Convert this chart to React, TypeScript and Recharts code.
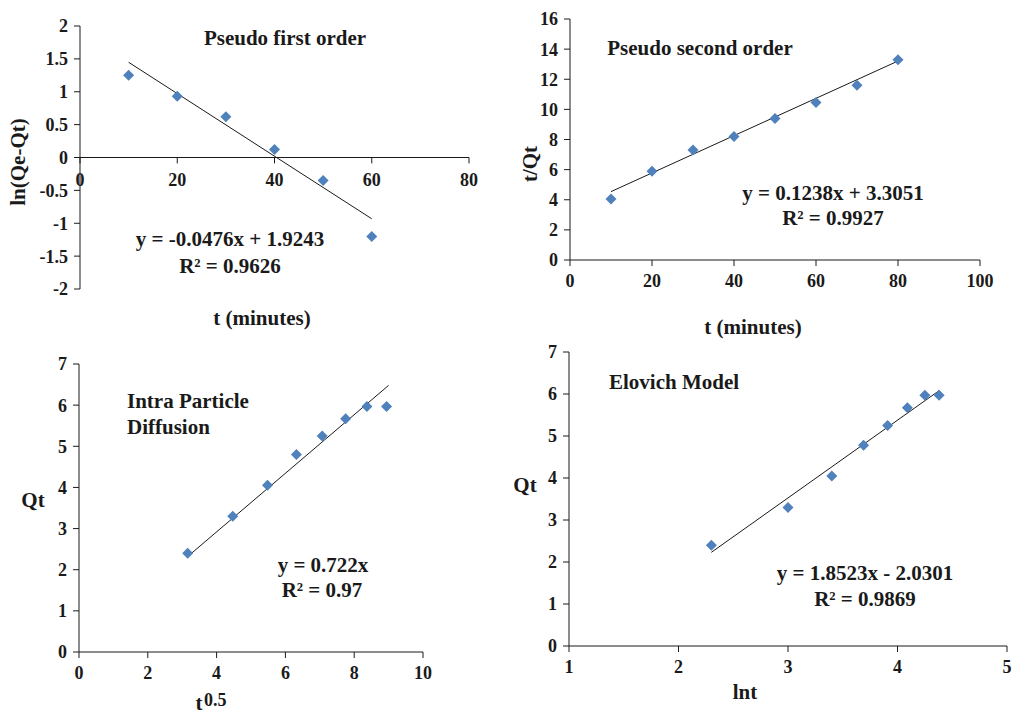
import React from 'react';
import { ComposedChart, Scatter, XAxis, YAxis, ReferenceLine, ReferenceDot } from 'recharts';

const FONT = '"Liberation Serif", "Times New Roman", serif';
const POINT = '#4F81BD';
const INK = '#1a1a1a';

// Panel 1: Pseudo first order
const p1X = [10, 20, 30, 40, 50, 60];
const p1Y = [1.25, 0.93, 0.62, 0.12, -0.35, -1.2];
const p1TrendX = [10, 60];
const p1TrendY = [1.448, -0.932];
const p1XTicks = [0, 20, 40, 60, 80];
const p1YTicks = [-2, -1.5, -1, -0.5, 0, 0.5, 1, 1.5, 2];

// Panel 2: Pseudo second order
const p2X = [10, 20, 30, 40, 50, 60, 70, 80];
const p2Y = [4.05, 5.9, 7.3, 8.2, 9.4, 10.45, 11.6, 13.3];
const p2TrendX = [10, 80];
const p2TrendY = [4.54, 13.21];
const p2XTicks = [0, 20, 40, 60, 80, 100];
const p2YTicks = [0, 2, 4, 6, 8, 10, 12, 14, 16];

// Panel 3: Intra particle diffusion
const p3X = [3.16, 4.47, 5.48, 6.32, 7.07, 7.75, 8.37, 8.94];
const p3Y = [2.4, 3.3, 4.05, 4.8, 5.25, 5.67, 5.97, 5.97];
const p3TrendX = [3.2, 9.0];
const p3TrendY = [2.35, 6.48];
const p3XTicks = [0, 2, 4, 6, 8, 10];
const p3YTicks = [0, 1, 2, 3, 4, 5, 6, 7];

// Panel 4: Elovich model
const p4X = [2.3, 3.0, 3.4, 3.69, 3.91, 4.09, 4.25, 4.38];
const p4Y = [2.4, 3.3, 4.05, 4.78, 5.25, 5.67, 5.97, 5.97];
const p4TrendX = [2.3, 4.38];
const p4TrendY = [2.23, 6.08];
const p4XTicks = [1, 2, 3, 4, 5];
const p4YTicks = [0, 1, 2, 3, 4, 5, 6, 7];

const zip = (xs: number[], ys: number[]) => xs.map((x, i) => ({ x, y: ys[i] }));

const Diamond = (props: any) => {
  const { cx, cy } = props;
  if (cx == null || cy == null) return <g />;
  const r = 5.5;
  return (
    <polygon
      points={`${cx},${cy - r} ${cx + r},${cy} ${cx},${cy + r} ${cx - r},${cy}`}
      fill={POINT}
    />
  );
};
const Empty = () => <g />;

const tickStyle = { fontFamily: FONT, fontWeight: 'bold' as const, fontSize: 18, fill: INK };

type PanelProps = {
  left: number; top: number; width: number; height: number;
  margin: { top: number; right: number; bottom: number; left: number };
  xDomain: [number, number]; xTicks: number[];
  yDomain: [number, number]; yTicks: number[];
  points: { x: number; y: number }[];
  trend: { x: number; y: number }[];
  xAtZero?: boolean;
};

function Panel(p: PanelProps) {
  return (
    <div style={{ position: 'absolute', left: p.left, top: p.top }}>
      <ComposedChart width={p.width} height={p.height} margin={p.margin}>
        <XAxis
          dataKey="x"
          type="number"
          domain={p.xDomain}
          ticks={p.xTicks}
          hide={!!p.xAtZero}
          height={30}
          stroke={INK}
          tickSize={6}
          tickMargin={8}
          tick={tickStyle}
          interval={0}
          allowDataOverflow
        />
        <YAxis
          dataKey="y"
          type="number"
          domain={p.yDomain}
          ticks={p.yTicks}
          width={40}
          stroke={INK}
          tickSize={6}
          tickMargin={6}
          tick={tickStyle}
          interval={0}
          allowDataOverflow
        />
        {p.xAtZero && <ReferenceLine y={0} stroke={INK} strokeWidth={1} />}
        {p.xAtZero &&
          p.xTicks.map((v) => (
            <ReferenceLine
              key={'t' + v}
              segment={[{ x: v, y: 0 }, { x: v, y: -0.09 }]}
              stroke={INK}
              strokeWidth={1}
            />
          ))}
        {p.xAtZero &&
          p.xTicks.map((v) => (
            <ReferenceDot
              key={'l' + v}
              x={v}
              y={0}
              r={0}
              fill="none"
              stroke="none"
              label={{
                value: String(v),
                position: 'bottom',
                offset: 16,
                style: tickStyle,
              }}
            />
          ))}
        <Scatter
          data={p.trend}
          line={{ stroke: INK, strokeWidth: 1 }}
          shape={Empty}
          isAnimationActive={false}
        />
        <Scatter data={p.points} shape={Diamond} isAnimationActive={false} />
      </ComposedChart>
    </div>
  );
}

const Txt = ({ x, y, children, size = 21, left = false, rotate = 0 }: any) => (
  <div
    style={{
      position: 'absolute',
      left: x,
      top: y,
      transform: `translate(${left ? '0' : '-50%'}, -50%) rotate(${rotate}deg)`,
      fontSize: size,
      lineHeight: 1,
      whiteSpace: 'nowrap',
      color: INK,
    }}
  >
    {children}
  </div>
);

export default function App() {
  return (
    <div
      style={{
        position: 'fixed',
        left: 0,
        top: 0,
        width: 1013,
        height: 713,
        background: '#fff',
        overflow: 'hidden',
        fontFamily: FONT,
        fontWeight: 'bold',
      }}
    >
      <Panel
        left={0} top={0} width={500} height={340}
        margin={{ top: 26, right: 31, bottom: 51, left: 40 }}
        xDomain={[0, 80]} xTicks={p1XTicks}
        yDomain={[-2, 2]} yTicks={p1YTicks}
        points={zip(p1X, p1Y)} trend={zip(p1TrendX, p1TrendY)}
        xAtZero
      />
      <Panel
        left={500} top={0} width={513} height={340}
        margin={{ top: 19, right: 33, bottom: 50, left: 30 }}
        xDomain={[0, 100]} xTicks={p2XTicks}
        yDomain={[0, 16]} yTicks={p2YTicks}
        points={zip(p2X, p2Y)} trend={zip(p2TrendX, p2TrendY)}
      />
      <Panel
        left={0} top={340} width={500} height={373}
        margin={{ top: 24, right: 77, bottom: 31, left: 39 }}
        xDomain={[0, 10]} xTicks={p3XTicks}
        yDomain={[0, 7]} yTicks={p3YTicks}
        points={zip(p3X, p3Y)} trend={zip(p3TrendX, p3TrendY)}
      />
      <Panel
        left={500} top={340} width={513} height={373}
        margin={{ top: 12, right: 6, bottom: 37, left: 29 }}
        xDomain={[1, 5]} xTicks={p4XTicks}
        yDomain={[0, 7]} yTicks={p4YTicks}
        points={zip(p4X, p4Y)} trend={zip(p4TrendX, p4TrendY)}
      />

      {/* Panel 1 texts */}
      <Txt x={285} y={38}>Pseudo first order</Txt>
      <Txt x={230} y={239}>y = -0.0476x + 1.9243</Txt>
      <Txt x={230} y={266}>R² = 0.9626</Txt>
      <Txt x={262} y={318}>t (minutes)</Txt>
      <Txt x={18} y={162} rotate={-90}>ln(Qe-Qt)</Txt>

      {/* Panel 2 texts */}
      <Txt x={700} y={48}>Pseudo second order</Txt>
      <Txt x={833} y={193}>y = 0.1238x + 3.3051</Txt>
      <Txt x={833} y={218}>R² = 0.9927</Txt>
      <Txt x={753} y={327}>t (minutes)</Txt>
      <Txt x={530} y={164} rotate={-90}>t/Qt</Txt>

      {/* Panel 3 texts */}
      <Txt x={127} y={401} left>Intra Particle</Txt>
      <Txt x={127} y={427} left>Diffusion</Txt>
      <Txt x={323} y={565}>y = 0.722x</Txt>
      <Txt x={322} y={590}>R² = 0.97</Txt>
      <Txt x={33} y={500}>Qt</Txt>
      <Txt x={199} y={703}>t</Txt>
      <Txt x={204} y={700} size={18} left>0.5</Txt>

      {/* Panel 4 texts */}
      <Txt x={674} y={382}>Elovich Model</Txt>
      <Txt x={865} y={573}>y = 1.8523x - 2.0301</Txt>
      <Txt x={865} y={599}>R² = 0.9869</Txt>
      <Txt x={525} y={485}>Qt</Txt>
      <Txt x={745} y={692}>lnt</Txt>
    </div>
  );
}
